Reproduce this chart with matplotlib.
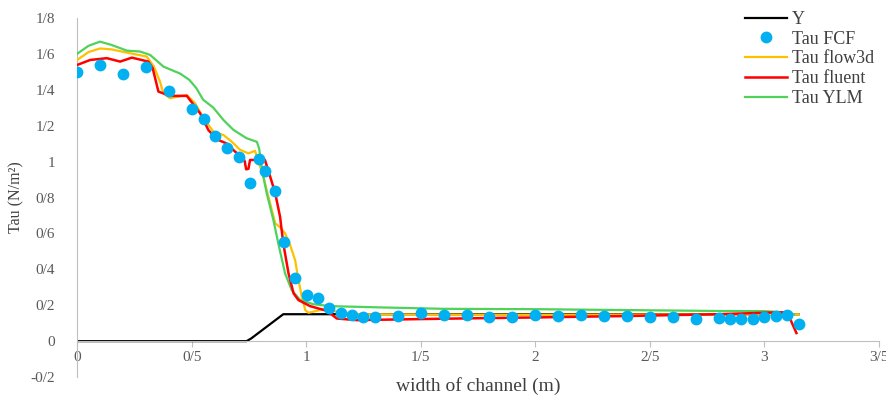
import matplotlib
matplotlib.use("Agg")
import matplotlib.pyplot as plt
from matplotlib.ticker import FixedLocator, FuncFormatter

plt.rcParams["font.family"] = ["Liberation Serif", "DejaVu Serif"]

# channel bed profile
y_x = [0, 0.74, 0.76, 0.9, 3.15]
y_v = [0, 0, 0.015, 0.15, 0.15]

# measured (FCF)
fcf_x = [0, 0.1, 0.2, 0.3, 0.4, 0.5, 0.555, 0.6, 0.655, 0.705, 0.755, 0.795, 0.82, 0.865,
         0.905, 0.952, 1.005, 1.05, 1.1, 1.15, 1.2, 1.25, 1.3, 1.4, 1.5, 1.6, 1.7, 1.8, 1.9,
         2.0, 2.1, 2.2, 2.3, 2.4, 2.5, 2.6, 2.7, 2.8, 2.85, 2.9, 2.95, 3.0, 3.05, 3.1, 3.15]
fcf_v = [1.50, 1.54, 1.49, 1.525, 1.395, 1.295, 1.236, 1.144, 1.078, 1.027, 0.879, 1.014,
         0.948, 0.838, 0.553, 0.353, 0.256, 0.241, 0.186, 0.154, 0.145, 0.135, 0.132, 0.141,
         0.154, 0.144, 0.146, 0.137, 0.137, 0.146, 0.141, 0.146, 0.141, 0.141, 0.135, 0.132,
         0.124, 0.128, 0.121, 0.121, 0.126, 0.132, 0.139, 0.143, 0.096]

# flow3d
f3d_x = [0, 0.05, 0.1, 0.15, 0.217, 0.304, 0.335, 0.362, 0.377, 0.406, 0.479, 0.515, 0.552,
         0.595, 0.639, 0.675, 0.712, 0.748, 0.777, 0.787, 0.81, 0.828, 0.85, 0.865, 0.886,
         0.908, 0.93, 0.952, 0.965, 0.981, 0.996, 1.01, 1.047, 1.09, 1.134, 1.207, 1.6, 2.0,
         2.4, 2.8, 3.15]
f3d_v = [1.566, 1.61, 1.63, 1.625, 1.607, 1.585, 1.53, 1.445, 1.38, 1.353, 1.371, 1.325,
         1.241, 1.167, 1.148, 1.111, 1.065, 1.046, 1.06, 1.018, 0.93, 0.84, 0.73, 0.656, 0.634,
         0.60, 0.535, 0.45, 0.35, 0.247, 0.173, 0.158, 0.169, 0.182, 0.163, 0.15, 0.148, 0.147,
         0.148, 0.149, 0.15]

# fluent
flu_x = [0, 0.057, 0.13, 0.188, 0.239, 0.311, 0.33, 0.355, 0.406, 0.479, 0.537, 0.573, 0.61,
         0.654, 0.69, 0.724, 0.732, 0.738, 0.748, 0.755, 0.785, 0.82, 0.843, 0.865, 0.886,
         0.90, 0.923, 0.945, 0.966, 1.017, 1.09, 1.134, 1.22, 1.6, 2.0, 2.4, 2.8, 3.05, 3.1,
         3.14]
flu_v = [1.538, 1.566, 1.576, 1.557, 1.579, 1.557, 1.52, 1.39, 1.366, 1.366, 1.269, 1.176,
         1.124, 1.10, 1.055, 1.024, 1.00, 0.957, 0.96, 1.009, 1.009, 1.009, 0.916, 0.823, 0.693,
         0.545, 0.377, 0.266, 0.229, 0.195, 0.169, 0.126, 0.117, 0.125, 0.132, 0.14, 0.15,
         0.16, 0.16, 0.045]

# YLM
ylm_x = [0, 0.05, 0.1, 0.15, 0.217, 0.275, 0.319, 0.377, 0.45, 0.49, 0.52, 0.55, 0.595, 0.64,
         0.683, 0.74, 0.785, 0.795, 0.81, 0.828, 0.857, 0.879, 0.908, 0.937, 0.974, 1.03,
         1.105, 1.32, 1.6, 2.0, 2.4, 2.8, 3.0, 3.1, 3.13]
ylm_v = [1.60, 1.645, 1.668, 1.65, 1.618, 1.613, 1.594, 1.529, 1.49, 1.455, 1.41, 1.345,
         1.30, 1.23, 1.176, 1.13, 1.11, 1.07, 0.935, 0.823, 0.674, 0.54, 0.377, 0.284, 0.229,
         0.206, 0.195, 0.188, 0.18, 0.178, 0.173, 0.168, 0.167, 0.16, 0.15]

x_ticks = [0, 0.5, 1, 1.5, 2, 2.5, 3, 3.5]
y_ticks = [-0.2, 0, 0.2, 0.4, 0.6, 0.8, 1, 1.2, 1.4, 1.6, 1.8]


def slash_fmt(v, pos=None):
    # decimal point written as "/"
    s = f"{v:g}"
    return s.replace(".", "/")


fig = plt.figure(figsize=(8.86, 3.99), dpi=100)
ax = fig.add_axes([0.087, 0.055, 0.905, 0.9])

ax.plot(y_x, y_v, color="black", lw=1.6, label="Y", zorder=2)
ax.plot(f3d_x, f3d_v, color="#FFC000", lw=1.6, label="Tau flow3d", zorder=3)
ax.plot(flu_x, flu_v, color="#FF0000", lw=1.8, label="Tau fluent", zorder=4)
ax.plot(ylm_x, ylm_v, color="#4FD15A", lw=1.6, label="Tau YLM", zorder=3)
ax.plot(fcf_x, fcf_v, "o", color="#00B0F0", ms=8.5, mec="none", label="Tau FCF", zorder=5)

ax.set_xlim(0, 3.5)
ax.set_ylim(-0.2, 1.8)
ax.xaxis.set_major_locator(FixedLocator(x_ticks))
ax.yaxis.set_major_locator(FixedLocator(y_ticks))
ax.xaxis.set_major_formatter(FuncFormatter(slash_fmt))
ax.yaxis.set_major_formatter(FuncFormatter(slash_fmt))

for s in ["top", "right"]:
    ax.spines[s].set_visible(False)
ax.spines["left"].set_color("#BFBFBF")
ax.spines["bottom"].set_color("#BFBFBF")
ax.spines["bottom"].set_position(("data", 0))
ax.tick_params(axis="x", colors="#BFBFBF", labelcolor="#595959", labelsize=11,
               length=4, direction="out", pad=3)
ax.tick_params(axis="y", length=0, labelcolor="#595959", labelsize=11, pad=16)

ax.set_ylabel("Tau (N/m²)", fontsize=11.5, color="#404040", labelpad=4)
fig.text(0.54, 0.01, "width of channel (m)", ha="center", va="bottom",
         fontsize=14, color="#404040")

handles, labels = ax.get_legend_handles_labels()
order = ["Y", "Tau FCF", "Tau flow3d", "Tau fluent", "Tau YLM"]
hmap = dict(zip(labels, handles))
fig.legend([hmap[k] for k in order], order, loc="upper left",
           bbox_to_anchor=(0.831, 0.995), frameon=False, fontsize=13,
           handlelength=2.3, handletextpad=0.3, labelspacing=0.15, borderpad=0,
           labelcolor="#404040")

fig.savefig("out.png", dpi=100)
